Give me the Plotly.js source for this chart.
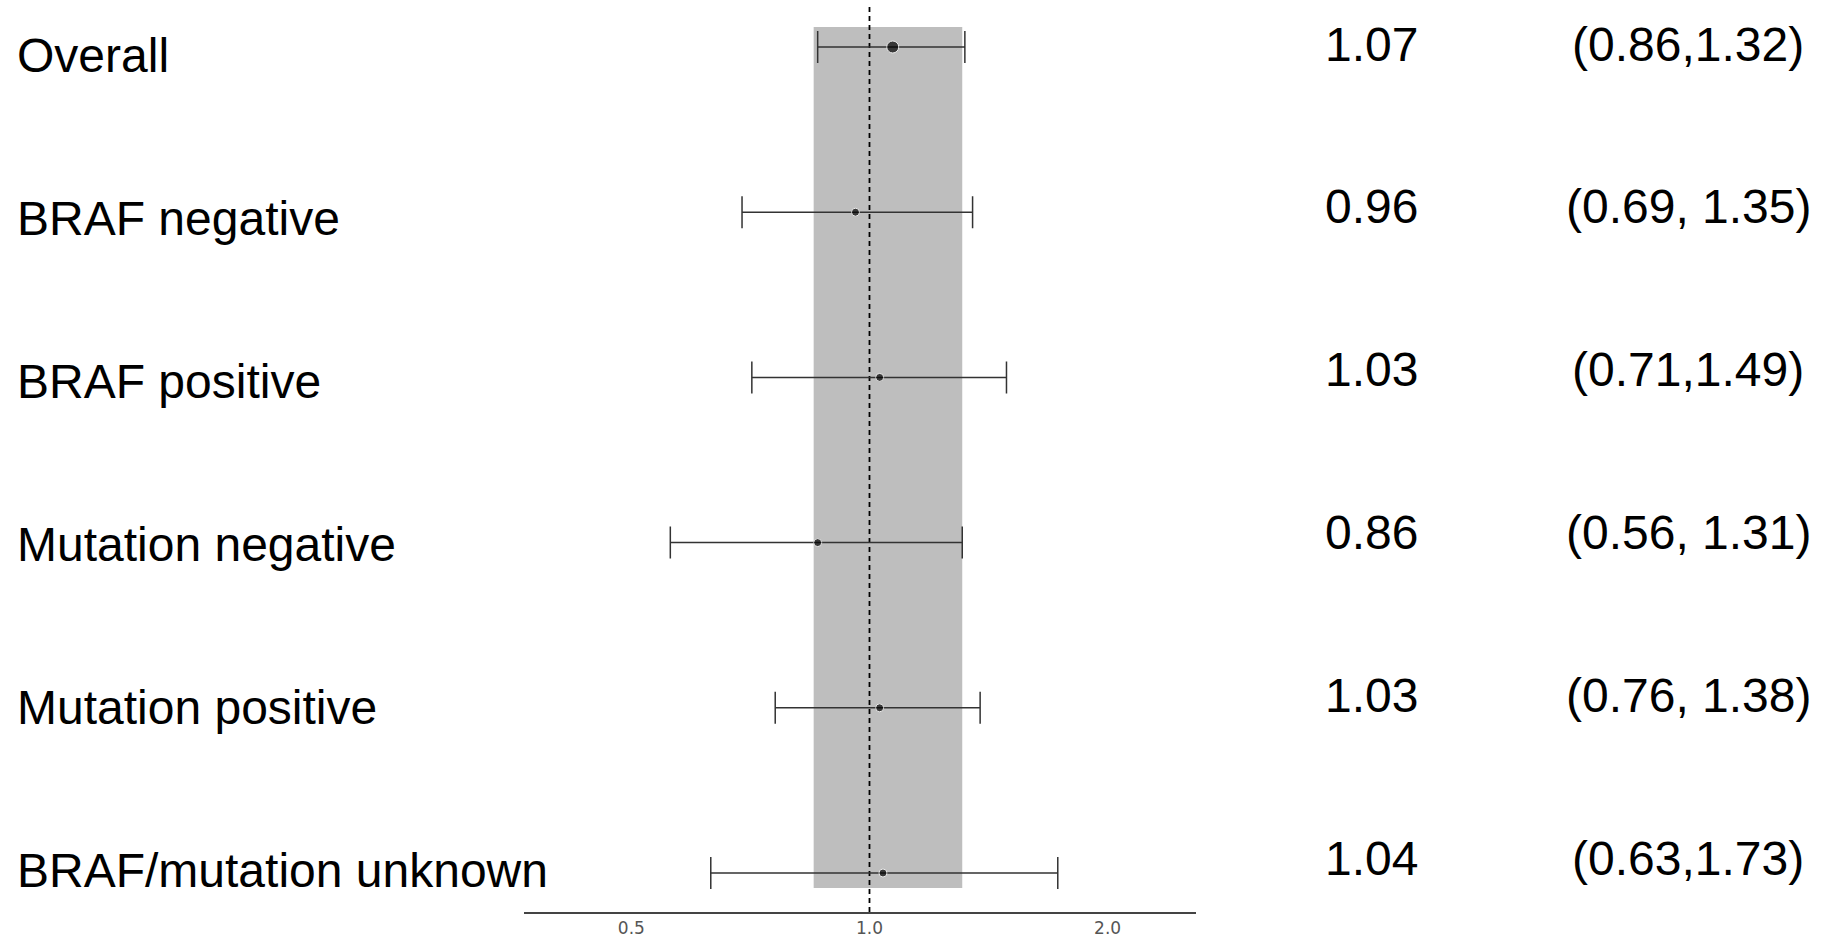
<!DOCTYPE html>
<html>
<head>
<meta charset="utf-8">
<script src="https://cdn.plot.ly/plotly-3.0.1.min.js"></script>
<style>
html, body { margin: 0; padding: 0; background: #fff; }
#chart { width: 1835px; height: 941px; }
</style>
</head>
<body>
<div id="chart"></div>
<script>
// ---- data ----
const subgroups   = ["Overall", "BRAF negative", "BRAF positive", "Mutation negative", "Mutation positive", "BRAF/mutation unknown"];
const hazardRatio = [1.07, 0.96, 1.03, 0.86, 1.03, 1.04];
const ciLower     = [0.86, 0.69, 0.71, 0.56, 0.76, 0.63];
const ciUpper     = [1.32, 1.35, 1.49, 1.31, 1.38, 1.73];
const ciLabels    = ["(0.86,1.32)", "(0.69, 1.35)", "(0.71,1.49)", "(0.56, 1.31)", "(0.76, 1.38)", "(0.63,1.73)"];
const bandRange   = [0.85, 1.31];
const nullValue   = 1;
const tickValues  = [0.5, 1.0, 2.0];
const tickLabels  = ["0.5", "1.0", "2.0"];

// ---- layout geometry (pixels) ----
const W = 1835, H = 941;
const plotL = 524, plotR = 1196, plotT = 7, plotB = 912;
const plotW = plotR - plotL, plotH = plotB - plotT;
const rowTopPx = 47, rowStepPx = 165.2;
const toRow = px => (px - rowTopPx) / rowStepPx;
const paperX = px => (px - plotL) / plotW;
const paperY = px => (plotB - px) / plotH;

const rows = subgroups.map((_, i) => i);
const yTop = toRow(plotT), yBot = toRow(plotB);
const bandTop = toRow(27), bandBot = toRow(888);

const traces = [
  {
    type: "scatter", mode: "lines",
    x: [bandRange[0], bandRange[1], bandRange[1], bandRange[0], bandRange[0]],
    y: [bandTop, bandTop, bandBot, bandBot, bandTop],
    fill: "toself", fillcolor: "#bebebe",
    line: { width: 0, color: "#bebebe" },
    hoverinfo: "skip"
  },
  {
    type: "scatter", mode: "lines",
    x: [nullValue, nullValue], y: [yTop, yBot],
    line: { color: "#000", width: 1.8, dash: "5px,4px" },
    hoverinfo: "skip"
  },
  {
    type: "scatter", mode: "markers",
    x: hazardRatio, y: rows,
    marker: { color: "#000", size: rows.map(i => i === 0 ? 12 : 8) },
    error_x: {
      type: "data", symmetric: false,
      array: hazardRatio.map((v, i) => ciUpper[i] - v),
      arrayminus: hazardRatio.map((v, i) => v - ciLower[i]),
      color: "#333", thickness: 1.5, width: 16
    }
  }
];

const textFont = { family: "Liberation Sans, Arial, sans-serif", size: 48, color: "#000" };
const annotations = [];
subgroups.forEach((name, i) => {
  annotations.push({
    xref: "paper", yref: "paper",
    x: paperX(15), y: paperY(56 + 162.8 * i),
    xanchor: "left", yanchor: "middle",
    text: name, showarrow: false, font: textFont
  });
  annotations.push({
    xref: "paper", yref: "paper",
    x: paperX(1371), y: paperY(44 + 162.8 * i),
    xanchor: "center", yanchor: "middle",
    text: hazardRatio[i].toFixed(2), showarrow: false, font: textFont
  });
  annotations.push({
    xref: "paper", yref: "paper",
    x: paperX(1688), y: paperY(44 + 162.8 * i),
    xanchor: "center", yanchor: "middle",
    text: ciLabels[i], showarrow: false, font: textFont
  });
});

const layout = {
  width: W, height: H,
  margin: { l: plotL, r: W - plotR, t: plotT, b: H - plotB, pad: 0 },
  paper_bgcolor: "#fff", plot_bgcolor: "#fff",
  showlegend: false,
  xaxis: {
    type: "log",
    range: [-0.4368, 0.4128],
    tickvals: tickValues, ticktext: tickLabels,
    ticks: "", showgrid: false, zeroline: false,
    showline: true, linecolor: "#444", linewidth: 1.5,
    tickfont: { family: "DejaVu Sans, sans-serif", size: 17, color: "#555" },
    ticklabelstandoff: 0,
    fixedrange: true
  },
  yaxis: {
    range: [yBot, yTop],
    visible: false, showgrid: false, zeroline: false,
    fixedrange: true
  },
  annotations: annotations
};

Plotly.newPlot("chart", traces, layout, { staticPlot: true, displayModeBar: false });
</script>
</body>
</html>
